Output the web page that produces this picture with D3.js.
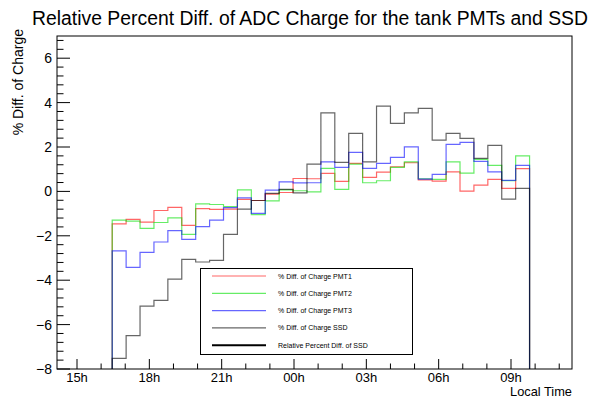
<!DOCTYPE html>
<html>
<head>
<meta charset="utf-8">
<script src="https://cdn.jsdelivr.net/npm/d3@7"></script>
<style>
  html, body { margin: 0; padding: 0; background: #fff; }
  svg { display: block; font-family: "Liberation Sans", Arial, Helvetica, sans-serif; }
</style>
</head>
<body>
<svg id="chart" width="606" height="399"></svg>
<script>
// Time axis (hours since midnight of the first day; 24 = 00h next day)
const tickHours = [15, 18, 21, 24, 27, 30, 33];
const tickLabels = ["15h", "18h", "21h", "00h", "03h", "06h", "09h"];
const yTicks = [-8, -6, -4, -2, 0, 2, 4, 6];

// Histogram binning
const binStart = 16.46;   // first bin edge, hours
const binWidth = 0.577;   // hours per bin

// Percent differences per bin
const pmt1 = [-1.46, -1.26, -1.38, -0.86, -0.72, -1.53, -0.78, -0.81, -0.80, -0.36,
              -0.41, -0.12, -0.05, 0.58, 0.57, 0.81, 0.45, 1.26, 0.63, 0.87,
              1.11, 1.29, 0.52, 0.46, 0.88, 0.01, 0.28, 0.54, 0.14, 1.03];
const pmt2 = [-1.29, -1.34, -1.67, -1.40, -1.19, -1.94, -0.56, -0.59, -0.69, 0.07,
              -1.05, -0.43, 0.07, 0.03, -0.02, 1.04, 0.09, 1.23, 0.39, 0.48,
              1.08, 1.33, 0.57, 0.54, 1.33, 0.82, 1.44, 1.17, 0.48, 1.60];
const pmt3 = [-2.68, -3.42, -2.75, -2.28, -1.77, -2.16, -1.59, -1.29, -0.73, -0.29,
              -0.99, 0.06, 0.43, 0.38, 0.39, 1.33, 1.08, 1.76, 1.04, 1.26,
              1.53, 2.01, 0.55, 0.77, 2.12, 2.21, 1.35, 0.88, 0.50, 1.17];
const ssd  = [-7.52, -6.50, -5.17, -4.91, -3.95, -3.06, -3.18, -3.11, -1.94, -0.80,
              -0.41, -0.09, 0.09, -0.07, 1.23, 3.54, 1.31, 2.61, 1.33, 3.84,
              3.06, 3.54, 3.74, 2.31, 2.61, 2.39, 1.49, 2.07, -0.35, 0.14];

const seriesNames = ["% Diff. of Charge PMT1", "% Diff. of Charge PMT2",
                     "% Diff. of Charge PMT3", "% Diff. of Charge SSD",
                     "Relative Percent Diff. of SSD"];

const svg = d3.select("#chart");
const frame = { left: 57, right: 572, top: 36, bottom: 369 };

const x = d3.scaleLinear().domain([14.17, 35.53]).range([frame.left, frame.right]);
const y = d3.scaleLinear().domain([-8, 7.0]).range([frame.bottom, frame.top]);

svg.append("defs").append("clipPath").attr("id", "plotClip")
  .append("rect")
  .attr("x", frame.left).attr("y", frame.top)
  .attr("width", frame.right - frame.left).attr("height", frame.bottom - frame.top);

// Title
const title = svg.append("text")
  .attr("x", 310).attr("y", 25)
  .attr("text-anchor", "middle")
  .attr("font-size", 20)
  .attr("fill", "#000")
  .text("Relative Percent Diff. of ADC Charge for the tank PMTs and SSD");
const tw = title.node().getComputedTextLength();
title.attr("font-size", 20 * 556 / tw);

// Histogram outlines: each starts and ends at the bottom of the frame
function stepPoints(vals) {
  const pts = [[binStart, y.domain()[0]]];
  vals.forEach((v, i) => {
    pts.push([binStart + i * binWidth, v]);
    pts.push([binStart + (i + 1) * binWidth, v]);
  });
  pts.push([binStart + vals.length * binWidth, y.domain()[0]]);
  return pts;
}
const line = d3.line().x(d => x(d[0])).y(d => y(d[1]));

const series = [
  { vals: pmt1, color: "#ff0000", op: 0.6 },
  { vals: pmt2, color: "#00e000", op: 0.6 },
  { vals: pmt3, color: "#0000ff", op: 0.6 },
  { vals: ssd,  color: "#000000", op: 0.6 }
];

const plot = svg.append("g").attr("clip-path", "url(#plotClip)");
series.forEach(s => {
  plot.append("path")
    .attr("d", line(stepPoints(s.vals)))
    .attr("fill", "none")
    .attr("stroke", s.color)
    .attr("stroke-opacity", s.op)
    .attr("stroke-width", 1.2);
});

// Frame
svg.append("rect")
  .attr("x", frame.left).attr("y", frame.top)
  .attr("width", frame.right - frame.left).attr("height", frame.bottom - frame.top)
  .attr("fill", "none").attr("stroke", "#000").attr("stroke-width", 1);

// Y axis ticks (inside the frame)
const yMinor = d3.range(-8, 7.0001, 0.4).map(v => +v.toFixed(2));
const yAxisG = svg.append("g");
yMinor.forEach(v => {
  const major = Math.abs(v / 2 - Math.round(v / 2)) < 1e-6;
  yAxisG.append("line")
    .attr("x1", frame.left).attr("x2", frame.left + (major ? 13 : 6.5))
    .attr("y1", y(v)).attr("y2", y(v))
    .attr("stroke", "#000").attr("stroke-width", 1);
});
yTicks.forEach(v => {
  yAxisG.append("text")
    .attr("x", frame.left - 5).attr("y", y(v) + 5)
    .attr("text-anchor", "end")
    .attr("font-size", 14)
    .text(d3.format("d")(v));
});

// X axis ticks (inside the frame)
const xAxisG = svg.append("g");
d3.range(15, 35.01, 1).forEach(h => {
  const major = (h - 15) % 3 === 0;
  xAxisG.append("line")
    .attr("x1", x(h)).attr("x2", x(h))
    .attr("y1", frame.bottom).attr("y2", frame.bottom - (major ? 10 : 5.5))
    .attr("stroke", "#000").attr("stroke-width", 1);
});
tickHours.forEach((h, i) => {
  xAxisG.append("text")
    .attr("x", x(h)).attr("y", 381.5)
    .attr("text-anchor", "middle")
    .attr("font-size", 13)
    .text(tickLabels[i]);
});

// Axis titles
svg.append("text")
  .attr("x", frame.right).attr("y", 396)
  .attr("text-anchor", "end")
  .attr("font-size", 12.8)
  .text("Local Time");
svg.append("text")
  .attr("transform", `translate(23, ${frame.top - 7}) rotate(-90)`)
  .attr("text-anchor", "end")
  .attr("font-size", 14)
  .text("% Diff. of Charge");

// Legend
const leg = svg.append("g");
leg.append("rect")
  .attr("x", 200.5).attr("y", 268.5).attr("width", 212).attr("height", 86)
  .attr("fill", "#fff").attr("stroke", "#000").attr("stroke-width", 1);
const legStyles = [
  { color: "#ff0000", op: 0.6, w: 1.2 },
  { color: "#00e000", op: 0.6, w: 1.2 },
  { color: "#0000ff", op: 0.6, w: 1.2 },
  { color: "#000000", op: 0.6, w: 1.2 },
  { color: "#000000", op: 1.0, w: 2 }
];
seriesNames.forEach((name, i) => {
  const yy = 276 + i * 17.3;
  leg.append("line")
    .attr("x1", 212).attr("x2", 266).attr("y1", yy).attr("y2", yy)
    .attr("stroke", legStyles[i].color)
    .attr("stroke-opacity", legStyles[i].op)
    .attr("stroke-width", legStyles[i].w);
  leg.append("text")
    .attr("x", 278).attr("y", yy + 2.5)
    .attr("font-size", 7)
    .text(name);
});
</script>
</body>
</html>
